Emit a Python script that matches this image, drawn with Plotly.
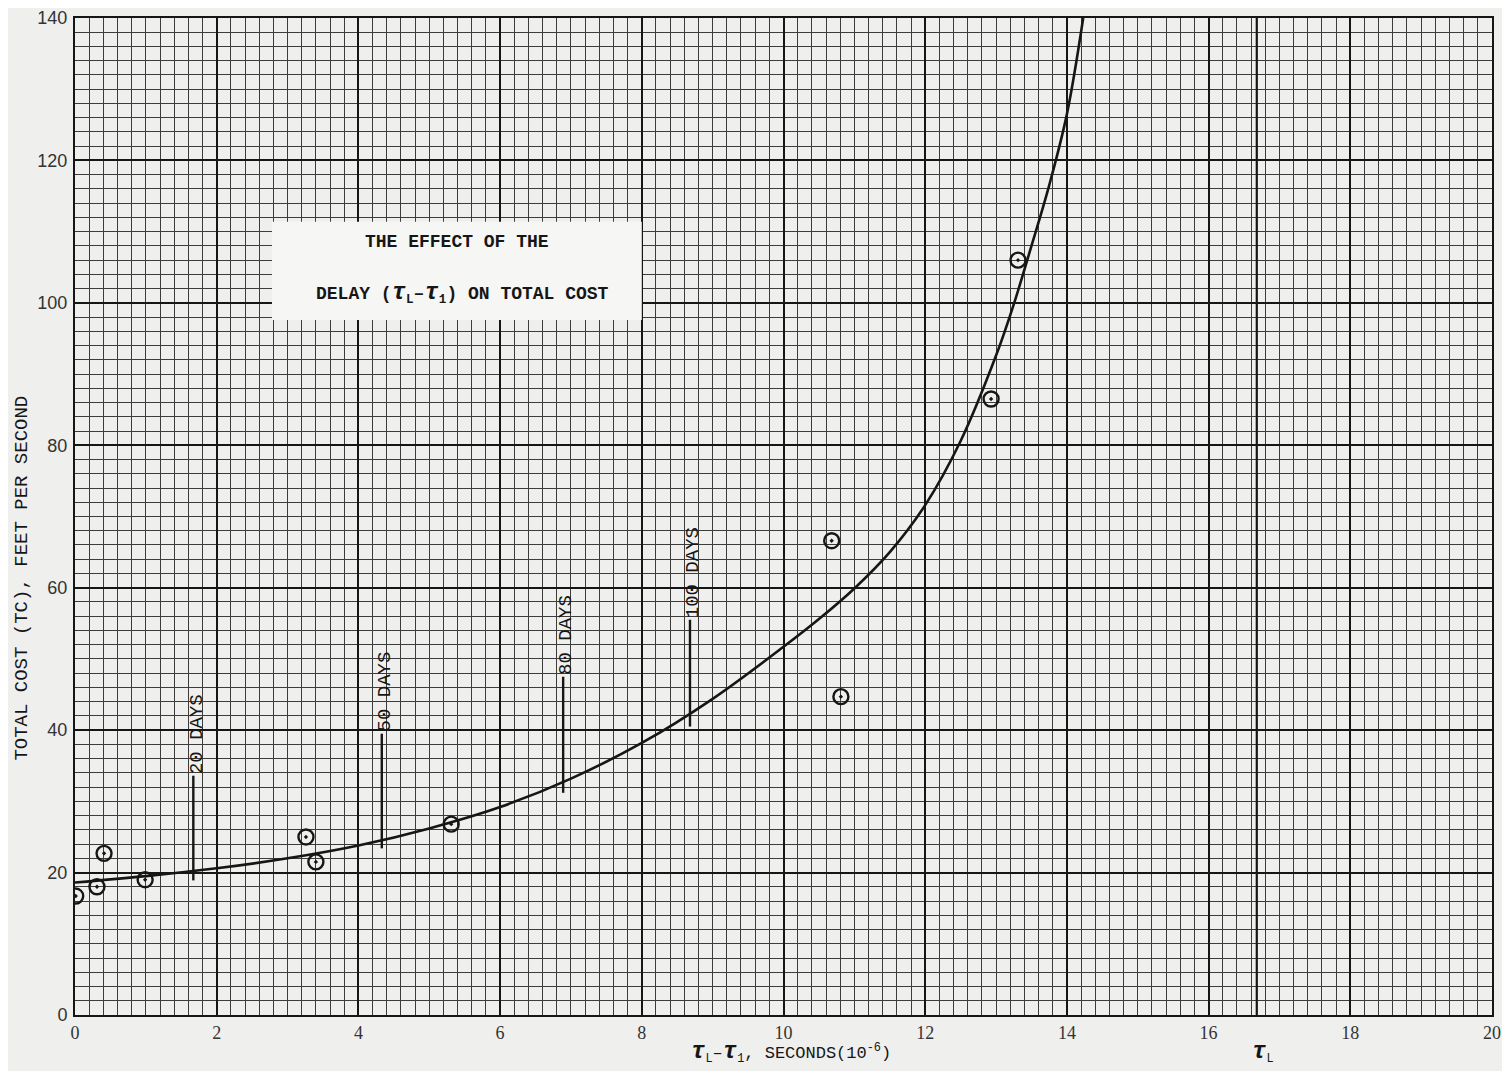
import plotly.graph_objects as go

# ---- data ----
point_x = [0.01, 0.31, 0.41, 0.99, 3.26, 3.40, 5.31, 10.68, 10.81, 12.93, 13.31]
point_y = [16.7, 18.0, 22.7, 19.0, 25.0, 21.5, 26.8, 66.6, 44.7, 86.5, 106.0]

curve_x = [0, 1, 2, 3, 4, 5, 6, 7, 8, 9, 10, 10.5, 11, 11.5, 12, 12.5, 13,
           13.25, 13.5, 13.75, 14, 14.23]
curve_y = [18.6, 19.5, 20.6, 22.0, 23.8, 26.2, 29.2, 33.2, 38.2, 44.4, 51.7, 55.6, 59.9,
           65.0, 71.6, 80.6, 92.6, 99.8, 108.0, 116.5, 126.5, 140.0]

day_labels = ["20 DAYS", "50 DAYS", "80 DAYS", "100 DAYS"]
day_x = [1.67, 4.33, 6.89, 8.68]
day_y0 = [18.9, 23.4, 31.2, 40.5]
day_y1 = [33.6, 39.5, 47.5, 55.5]

tau_L_x = 16.68

x_ticks = [0, 2, 4, 6, 8, 10, 12, 14, 16, 18, 20]
y_ticks = [0, 20, 40, 60, 80, 100, 120, 140]

title_lines = ["THE EFFECT OF THE",
               "DELAY (<b><i><span style='font-size:24px'>τ</span></i></b><sub>L</sub>–"
               "<b><i><span style='font-size:24px'>τ</span></i></b><sub>1</sub>) ON TOTAL COST"]

paper = "#efefee"
ink = "#161616"
BODY = 8  # default page margin of the html body

fig = go.Figure()

fig.add_trace(go.Scatter(
    x=curve_x, y=curve_y, mode="lines",
    line=dict(color=ink, width=2.6, shape="spline", smoothing=1.0),
    hoverinfo="skip", showlegend=False))

fig.add_trace(go.Scatter(
    x=point_x, y=point_y, mode="markers",
    marker=dict(symbol="circle-open-dot", size=15, color=ink,
                line=dict(color=ink, width=2.4)),
    showlegend=False))

shapes = []
for xv, y0, y1 in zip(day_x, day_y0, day_y1):
    shapes.append(dict(type="line", xref="x", yref="y", x0=xv, x1=xv, y0=y0, y1=y1,
                       line=dict(color=ink, width=2.4)))
shapes.append(dict(type="line", xref="x", yref="y", x0=tau_L_x, x1=tau_L_x, y0=-2.1, y1=140,
                   line=dict(color=ink, width=2.2)))
shapes.append(dict(type="rect", xref="x", yref="y", x0=2.78, x1=8.0, y0=97.6, y1=111.4,
                   fillcolor="#f6f6f5", line=dict(width=0), layer="above"))

annotations = []
for lab, xv, y1 in zip(day_labels, day_x, day_y1):
    annotations.append(dict(x=xv, y=y1, xref="x", yref="y", text=lab, showarrow=False,
                            textangle=-90, xanchor="center", yanchor="bottom",
                            xshift=3, yshift=0,
                            font=dict(family="Liberation Mono", size=19, color=ink)))

annotations.append(dict(x=5.39, y=108.6, xref="x", yref="y", text="<b>" + title_lines[0] + "</b>",
                        showarrow=False,
                        font=dict(family="Liberation Mono", size=18, color=ink),
                        xanchor="center", yanchor="middle"))
annotations.append(dict(x=5.47, y=101.4, xref="x", yref="y", text="<b>" + title_lines[1] + "</b>",
                        showarrow=False,
                        font=dict(family="Liberation Mono", size=18, color=ink),
                        xanchor="center", yanchor="middle"))

annotations.append(dict(x=-0.0375, y=61.4, xref="paper", yref="y",
                        text="TOTAL COST (TC), FEET PER SECOND", showarrow=False,
                        textangle=-90, xanchor="center", yanchor="middle",
                        font=dict(family="Liberation Mono", size=19, color=ink)))
annotations.append(dict(x=10.1, y=0, xref="x", yref="y",
                        text="<b><i><span style='font-size:24px'>τ</span></i></b><sub>L</sub>–"
                             "<b><i><span style='font-size:24px'>τ</span></i></b><sub>1</sub>, "
                             "SECONDS(10<sup>-6</sup>)",
                        showarrow=False, xanchor="center", yanchor="top", yshift=-21,
                        font=dict(family="Liberation Mono", size=17, color=ink)))
annotations.append(dict(x=tau_L_x, y=0, xref="x", yref="y",
                        text="<b><i><span style='font-size:24px'>τ</span></i></b><sub>L</sub>",
                        showarrow=False, xanchor="center", yanchor="top", yshift=-21, xshift=6,
                        font=dict(family="Liberation Mono", size=17, color=ink)))

fig.update_layout(
    width=1510 - BODY, height=1071 - BODY,
    margin=dict(l=75 - BODY, r=18, t=18 - BODY, b=56),
    paper_bgcolor=paper, plot_bgcolor=paper,
    shapes=shapes, annotations=annotations,
    showlegend=False,
)

fig.update_xaxes(
    range=[0, 20], tickvals=x_ticks, ticktext=[str(v) for v in x_ticks],
    showgrid=True, gridcolor=ink, gridwidth=2,
    minor=dict(dtick=0.2, showgrid=True, gridcolor="#3c3c3c", gridwidth=1, ticks=""),
    showline=True, linecolor=ink, linewidth=2, mirror=True, zeroline=False,
    ticks="", tickfont=dict(family="Liberation Serif", size=18, color="#333"),
    ticklabelstandoff=0, automargin=False,
)
fig.update_yaxes(
    range=[0, 140], tickvals=y_ticks, ticktext=[str(v) for v in y_ticks],
    showgrid=True, gridcolor=ink, gridwidth=2,
    minor=dict(dtick=2, showgrid=True, gridcolor="#3c3c3c", gridwidth=1, ticks=""),
    showline=True, linecolor=ink, linewidth=2, mirror=True, zeroline=False,
    ticks="", tickfont=dict(family="Liberation Sans", size=18, color="#333"),
    ticklabelstandoff=2, automargin=False,
)

fig.write_html("out.html")
